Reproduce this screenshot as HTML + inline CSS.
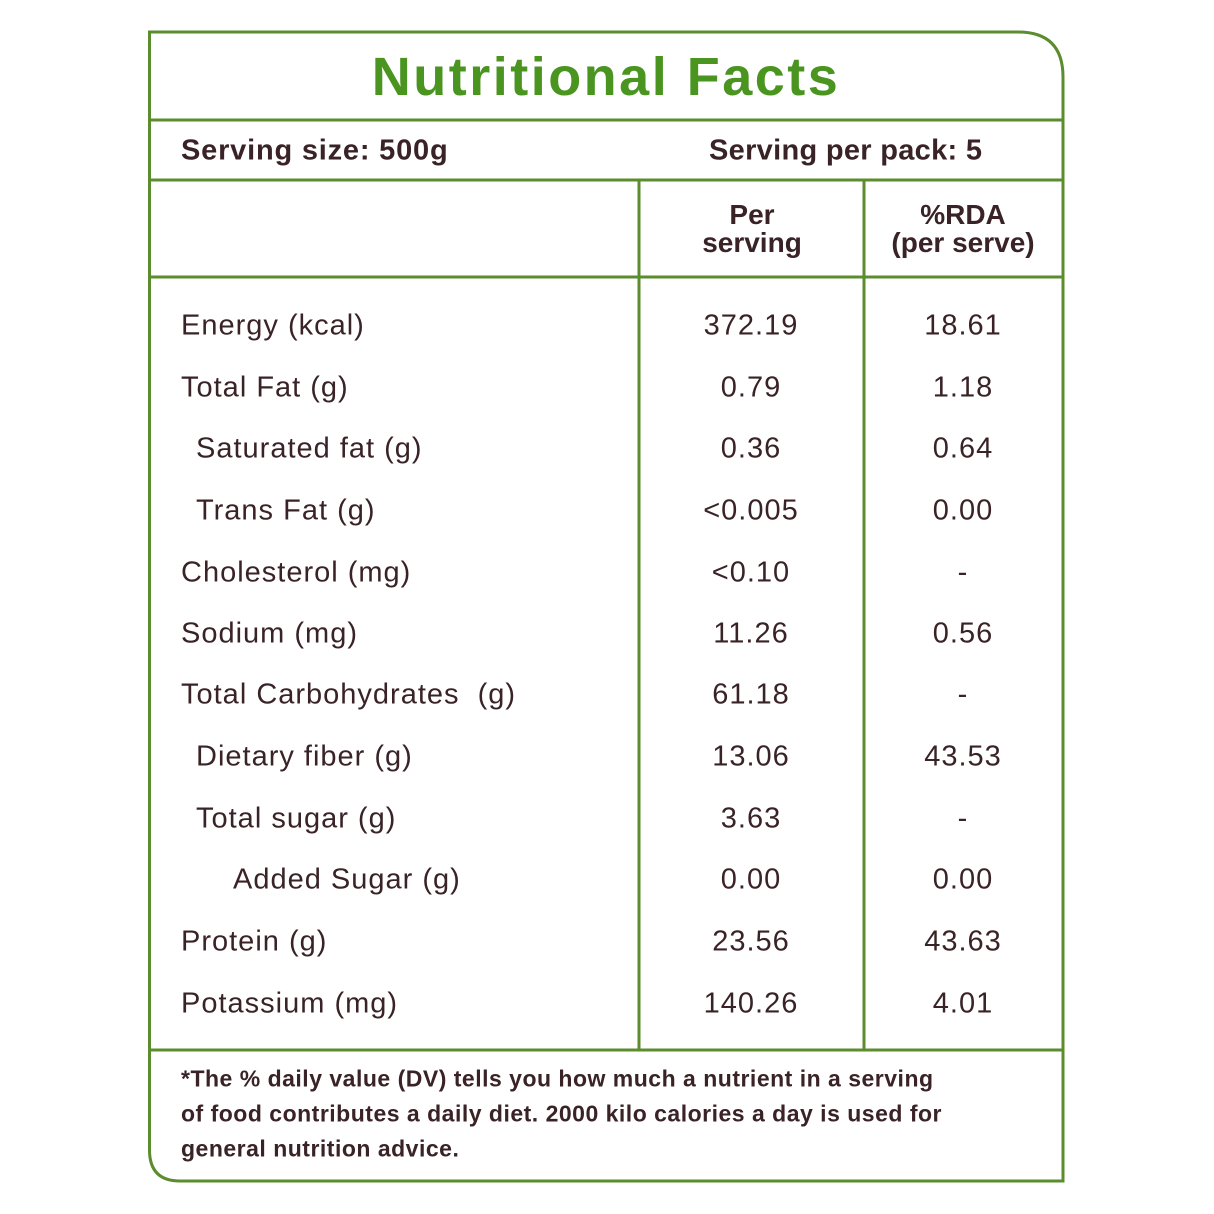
<!DOCTYPE html>
<html><head><style>
body{margin:0;width:1214px;height:1214px;background:#fff;position:relative;font-family:"Liberation Sans",sans-serif;color:#3a2326;overflow:hidden}
.t{position:absolute;white-space:nowrap;line-height:1;transform:translateY(-50%)}
.c{transform:translate(-50%,-50%);text-align:center}
.r{font-size:29px;letter-spacing:1px}
.b{font-weight:bold}
</style></head><body>
<svg width="1214" height="1214" style="position:absolute;left:0;top:0">
<g stroke="#5b8c2e" stroke-width="3" fill="none">
<path d="M149.5 32 H1018 Q1063 32 1063 77 V1181 H180 Q149.5 1181 149.5 1150 Z"/>
<line x1="149" y1="120" x2="1063" y2="120"/>
<line x1="149" y1="180" x2="1063" y2="180"/>
<line x1="149" y1="277" x2="1063" y2="277"/>
<line x1="149" y1="1050" x2="1063" y2="1050"/>
<line x1="639" y1="180" x2="639" y2="1050"/>
<line x1="864" y1="180" x2="864" y2="1050"/>
</g></svg>
<div class="t c b" style="left:606px;top:77px;font-size:54px;letter-spacing:2.5px;color:#4a9520">Nutritional Facts</div>
<div class="t b" style="left:181px;top:151px;font-size:29px;letter-spacing:0.8px">Serving size: 500g</div>
<div class="t b" style="left:709px;top:151px;font-size:29px;letter-spacing:0.3px">Serving per pack: 5</div>
<div class="t c b" style="left:752px;top:229px;font-size:28px;line-height:28px">Per<br>serving</div>
<div class="t c b" style="left:963px;top:229px;font-size:28px;line-height:28px">%RDA<br>(per serve)</div>

<div class="t r" style="left:181px;top:326px">Energy (kcal)</div><div class="t r c" style="left:751px;top:326px">372.19</div><div class="t r c" style="left:963px;top:326px">18.61</div>
<div class="t r" style="left:181px;top:388px">Total Fat (g)</div><div class="t r c" style="left:751px;top:388px">0.79</div><div class="t r c" style="left:963px;top:388px">1.18</div>
<div class="t r" style="left:196px;top:449px">Saturated fat (g)</div><div class="t r c" style="left:751px;top:449px">0.36</div><div class="t r c" style="left:963px;top:449px">0.64</div>
<div class="t r" style="left:196px;top:511px">Trans Fat (g)</div><div class="t r c" style="left:751px;top:511px">&lt;0.005</div><div class="t r c" style="left:963px;top:511px">0.00</div>
<div class="t r" style="left:181px;top:573px">Cholesterol (mg)</div><div class="t r c" style="left:751px;top:573px">&lt;0.10</div><div class="t r c" style="left:963px;top:573px">-</div>
<div class="t r" style="left:181px;top:634px">Sodium (mg)</div><div class="t r c" style="left:751px;top:634px">11.26</div><div class="t r c" style="left:963px;top:634px">0.56</div>
<div class="t r" style="left:181px;top:695px">Total Carbohydrates &nbsp;(g)</div><div class="t r c" style="left:751px;top:695px">61.18</div><div class="t r c" style="left:963px;top:695px">-</div>
<div class="t r" style="left:196px;top:757px">Dietary fiber (g)</div><div class="t r c" style="left:751px;top:757px">13.06</div><div class="t r c" style="left:963px;top:757px">43.53</div>
<div class="t r" style="left:196px;top:819px">Total sugar (g)</div><div class="t r c" style="left:751px;top:819px">3.63</div><div class="t r c" style="left:963px;top:819px">-</div>
<div class="t r" style="left:233px;top:880px">Added Sugar (g)</div><div class="t r c" style="left:751px;top:880px">0.00</div><div class="t r c" style="left:963px;top:880px">0.00</div>
<div class="t r" style="left:181px;top:942px">Protein (g)</div><div class="t r c" style="left:751px;top:942px">23.56</div><div class="t r c" style="left:963px;top:942px">43.63</div>
<div class="t r" style="left:181px;top:1004px">Potassium (mg)</div><div class="t r c" style="left:751px;top:1004px">140.26</div><div class="t r c" style="left:963px;top:1004px">4.01</div>

<div class="t b" style="left:181px;top:1114px;font-size:23px;letter-spacing:0.5px;line-height:35px;white-space:normal;width:850px">*The % daily value (DV) tells you how much a nutrient in a serving<br>of food contributes a daily diet. 2000 kilo calories a day is used for<br>general nutrition advice.</div>
</body></html>
